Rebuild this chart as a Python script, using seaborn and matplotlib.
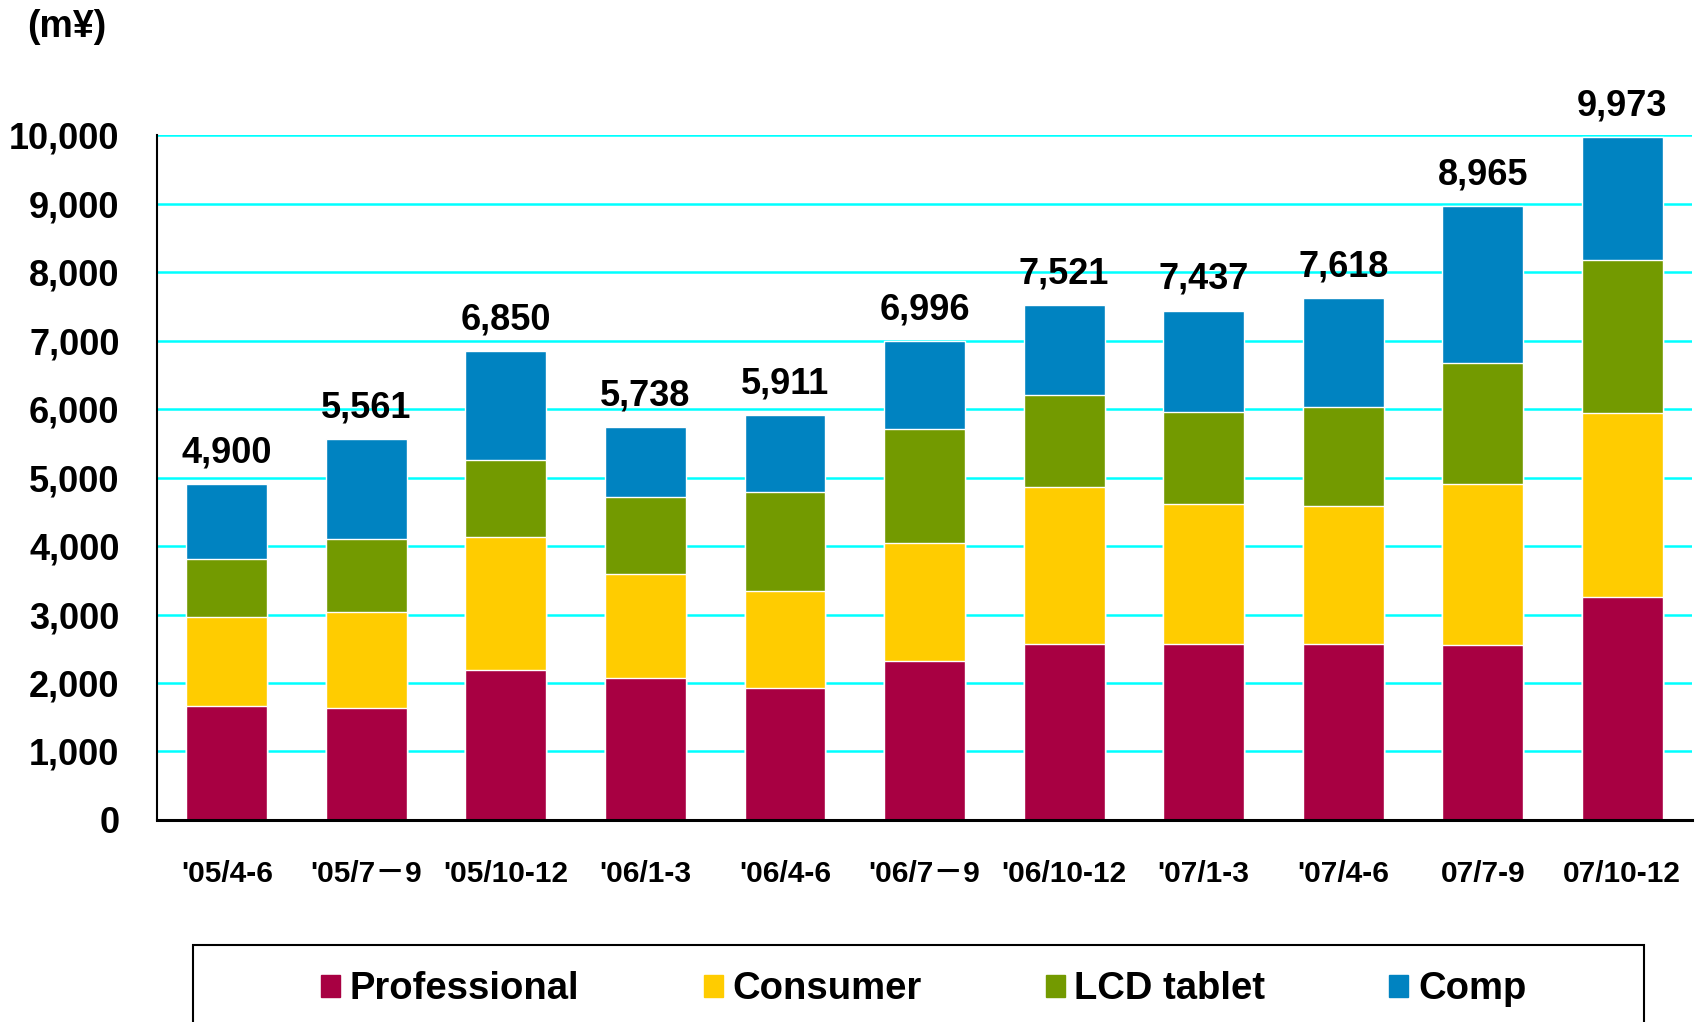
import numpy as np
import matplotlib
matplotlib.use("Agg")
import matplotlib.pyplot as plt
import seaborn as sns
from matplotlib.patches import Rectangle

# Données (m¥)
QUARTERS = ["'05/4-6", "'05/7－9", "'05/10-12", "'06/1-3", "'06/4-6", "'06/7－9",
            "'06/10-12", "'07/1-3", "'07/4-6", "07/7-9", "07/10-12"]
PROFESSIONAL = [1669, 1630, 2190, 2074, 1926, 2321, 2569, 2569, 2569, 2549, 3254]
CONSUMER = [1299, 1411, 1946, 1517, 1418, 1724, 2298, 2046, 2016, 2353, 2682]
LCD_TABLET = [847, 1057, 1119, 1126, 1443, 1661, 1338, 1349, 1451, 1767, 2248]
COMP = [1085, 1463, 1595, 1021, 1124, 1290, 1316, 1473, 1582, 2296, 1789]
TOTALS = [4900, 5561, 6850, 5738, 5911, 6996, 7521, 7437, 7618, 8965, 9973]
Y_TICKS = [0, 1000, 2000, 3000, 4000, 5000, 6000, 7000, 8000, 9000, 10000]

SERIES = ['Professional', 'Consumer', 'LCD tablet', 'Comp']
COLORS = ['#A80042', '#FFCC00', '#739A00', '#0083C1']

sns.set_style("white")
plt.rcParams['font.family'] = ['Liberation Sans', 'Noto Sans CJK JP', 'DejaVu Sans']
for key in ['text.color', 'axes.labelcolor', 'xtick.color', 'ytick.color']:
    plt.rcParams[key] = 'black'

fig = plt.figure(figsize=(16.98, 10.22), dpi=100)
ax = fig.add_axes([0.0925, 0.1977, 0.904, 0.670])

# Empilement : on dessine les cumuls du plus haut au plus bas
stack = np.cumsum(np.array([PROFESSIONAL, CONSUMER, LCD_TABLET, COMP]), axis=0)
for level in range(3, -1, -1):
    sns.barplot(x=QUARTERS, y=stack[level], color=COLORS[level], saturation=1,
                width=0.58, order=QUARTERS, ax=ax, zorder=2)

# Totaux au-dessus des barres
for i, total in enumerate(TOTALS):
    ax.annotate(f'{total:,}', xy=(i, stack[3][i]), xytext=(0, 10),
                textcoords='offset points', ha='center', va='bottom',
                fontsize=26, fontweight='bold', color='black')

ax.set_xlim(-0.5, len(QUARTERS) - 0.5)
ax.set_ylim(0, 10000)
ax.set_yticks(Y_TICKS)
ax.set_yticklabels([f'{v:,}' for v in Y_TICKS], fontsize=26, fontweight='bold')
ax.tick_params(axis='y', direction='in', length=7, width=1.5, pad=27)

ax.set_xticks(range(len(QUARTERS)))
ax.set_xticklabels(QUARTERS, fontsize=21.5, fontweight='bold')
ax.set_xticks(np.arange(0.5, len(QUARTERS), 1), minor=True)
ax.tick_params(axis='x', which='major', length=0, pad=29)
ax.tick_params(axis='x', which='minor', direction='in', length=6.5, width=1.5)
ax.set_xlabel('')
ax.set_ylabel('')

ax.yaxis.grid(True, color='#00FFFF', linewidth=1.8)
ax.xaxis.grid(False)
ax.set_axisbelow(True)
for side in ['top', 'right']:
    ax.spines[side].set_visible(False)
ax.spines['left'].set_linewidth(1.5)
ax.spines['bottom'].set_linewidth(2.2)
ax.spines['left'].set_color('black')
ax.spines['bottom'].set_color('black')

fig.text(0.016, 0.991, '(m¥)', fontsize=27, fontweight='bold', ha='left', va='top')

# Légende
handles = [Rectangle((0, 0), 1, 1, color=c) for c in COLORS]
fig.legend(handles, SERIES, loc='center', bbox_to_anchor=(0.544, 0.032), ncol=4,
           frameon=False, handlelength=0.5, handleheight=0.5, handletextpad=0.25,
           columnspacing=3.25, prop={'weight': 'bold', 'size': 27.5})
fig.patches.append(Rectangle((193 / 1698, -0.05), (1644 - 193) / 1698, 0.1253,
                             transform=fig.transFigure, fill=False,
                             edgecolor='black', linewidth=1.5))

fig.savefig('out.png', dpi=100)
